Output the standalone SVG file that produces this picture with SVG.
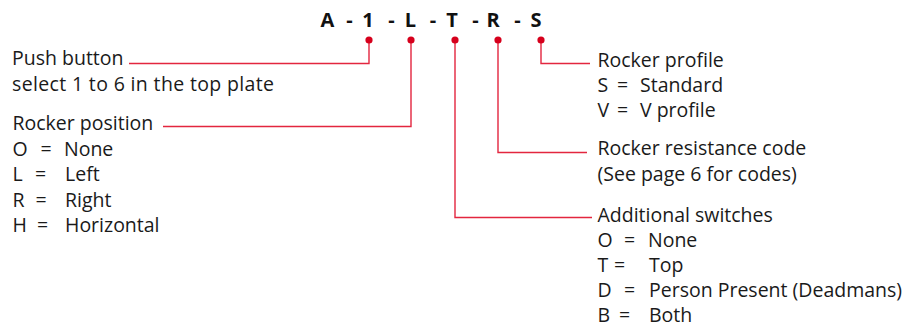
<svg xmlns="http://www.w3.org/2000/svg" width="919" height="327" viewBox="0 0 919 327">
<style>
.t{font-family:"Open Sans","Liberation Sans",sans-serif;font-size:19.5px;fill:#1a1a1a}
.h{font-family:"Open Sans","Liberation Sans",sans-serif;font-size:20px;font-weight:700;fill:#111;text-anchor:middle}
.c{fill:none;stroke:#e3263f;stroke-width:1.4}
.d{fill:#d6001c}
</style>
<rect width="919" height="327" fill="#fff"/>
<g id="code">
<text class="h" x="327.5" y="27">A</text><text class="h" x="349.5" y="27">-</text>
<text class="h" x="368" y="27">1</text><text class="h" x="391.5" y="27">-</text>
<text class="h" x="410.5" y="27">L</text><text class="h" x="433" y="27">-</text>
<text class="h" x="452" y="27">T</text><text class="h" x="475.5" y="27">-</text>
<text class="h" x="493" y="27">R</text><text class="h" x="517.5" y="27">-</text>
<text class="h" x="536" y="27">S</text>
</g>
<g id="connectors">
<polyline class="c" points="369,40 369,63.5 129,63.5"/>
<polyline class="c" points="411,40 411,126.5 163,126.5"/>
<polyline class="c" points="455,40 455,217.5 592,217.5"/>
<polyline class="c" points="498,40 498,152.5 587,152.5"/>
<polyline class="c" points="541,40 541,63.5 590,63.5"/>
<circle class="d" cx="369" cy="40" r="3.6"/>
<circle class="d" cx="411" cy="40" r="3.6"/>
<circle class="d" cx="455" cy="40" r="3.6"/>
<circle class="d" cx="498" cy="40" r="3.6"/>
<circle class="d" cx="541" cy="40" r="3.6"/>
</g>
<g id="push-button">
<text class="t" x="12" y="65">Push button</text>
<text class="t" x="12" y="91" textLength="262" lengthAdjust="spacing">select 1 to 6 in the top plate</text>
</g>
<g id="rocker-position">
<text class="t" x="12.5" y="130">Rocker position</text>
<text class="t" x="12.5" y="155.5">O</text><text class="t" x="40.5" y="155.5">=</text><text class="t" x="64" y="155.5">None</text>
<text class="t" x="12.5" y="181">L</text><text class="t" x="35" y="181">=</text><text class="t" x="65" y="181">Left</text>
<text class="t" x="12.5" y="206.5">R</text><text class="t" x="35.5" y="206.5">=</text><text class="t" x="65" y="206.5">Right</text>
<text class="t" x="12.5" y="232">H</text><text class="t" x="37" y="232">=</text><text class="t" x="65" y="232">Horizontal</text>
</g>
<g id="rocker-profile">
<text class="t" x="597.5" y="66.5">Rocker profile</text>
<text class="t" x="597.5" y="92">S</text><text class="t" x="617" y="92">=</text><text class="t" x="640" y="92">Standard</text>
<text class="t" x="597.5" y="117">V</text><text class="t" x="617" y="117">=</text><text class="t" x="640" y="117">V profile</text>
</g>
<g id="rocker-resistance">
<text class="t" x="597.5" y="155">Rocker resistance code</text>
<text class="t" x="597.5" y="180.5">(See page 6 for codes)</text>
</g>
<g id="additional-switches">
<text class="t" x="597.5" y="221.5">Additional switches</text>
<text class="t" x="597.5" y="246.5">O</text><text class="t" x="624" y="246.5">=</text><text class="t" x="648" y="246.5">None</text>
<text class="t" x="597.5" y="271.5">T</text><text class="t" x="614" y="271.5">=</text><text class="t" x="649" y="271.5">Top</text>
<text class="t" x="597.5" y="296.5">D</text><text class="t" x="624" y="296.5">=</text><text class="t" x="649" y="296.5">Person Present (Deadmans)</text>
<text class="t" x="597.5" y="321.5">B</text><text class="t" x="619" y="321.5">=</text><text class="t" x="649" y="321.5">Both</text>
</g>
</svg>
